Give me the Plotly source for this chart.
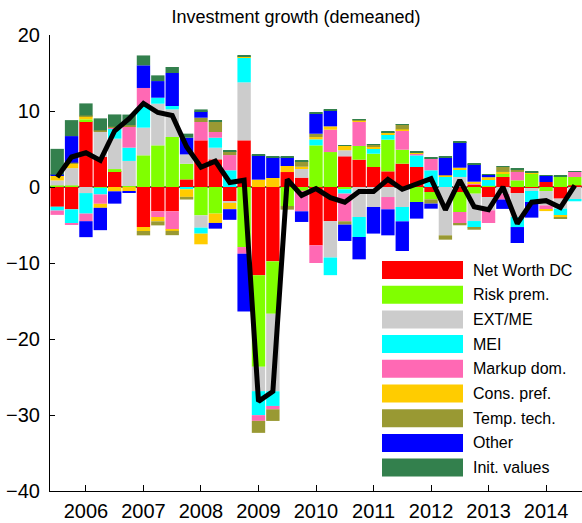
import plotly.graph_objects as go

# Quarters 2005Q3 .. 2014Q3 (x = year + (q-1)/4)
quarters = [2005.5 + 0.25 * i for i in range(37)]

series_names = ["Net Worth DC", "Risk prem.", "EXT/ME", "MEI", "Markup dom.",
                "Cons. pref.", "Temp. tech.", "Other", "Init. values"]
series_colors = ["#FF0000", "#80FF00", "#CCCCCC", "#00FFFF", "#FF69B4",
                 "#FFCC00", "#999933", "#0000FF", "#33804D"]

net_worth = [-2.6, -2.94, 8.64, 3.95, 2.1, 0, -5.26, -3.2, -3.2, 1.0,
             6.14, 3.64, -1.89, 6.14, -11.6, -9.78, 1.97, 1.23, -7.68, -4.5,
             4.04, 3.6, 2.63, 2.06, 3.07, 2.63, -0.66, 0, -0.66, 0.3,
             -1.32, 1.32, -0.79, -0.26, 0.66, -1.53, 0.22]
risk_prem = [0.2, 0.2, 0.26, -0.1, 0.26, 0.13, 4.17, 5.48, 6.58, 2.06,
             -3.73, -3.5, 0, -7.9, -12.06, -6.9, -2.5, -0.5, 5.48, 4.6,
             -0.3, 1.8, 1.75, 4.17, 1.84, -1.97, -0.96, 0, -2.63, -0.88,
             0.15, 0.44, 0.88, 1.75, -0.53, 1.4, 1.1]
ext_me = [0.66, 2.28, -0.8, 3.3, 4.0, 3.3, 3.64, 5.48, 3.64, 1.23,
          -1.62, 1.53, -0.2, 7.63, -3.2, -10.2, 0, 1.18, 0, -4.78,
          0.79, -3.95, -2.63, -1.32, -2.63, 0, 0, -6.36, 1.32, -3.6,
          -1.75, -0.9, -3.16, -0.26, -1.89, -1.32, -1.62]
mei = [-0.5, -1.8, -2.7, -0.88, 1.3, 1.75, 2.72, 0.79, 0.44, -0.3,
       -0.79, 1.32, 2.2, 3.3, -3.16, -1.93, 0, 0, 0.79, -2.32,
       -0.57, -2.63, 0.75, 0.7, -1.89, 1.53, 2.2, 1.32, 0.96, -0.88,
       0.88, 0, -1.32, -1.45, 0, -0.88, -0.26]
markup_dom = [-0.57, -0.2, -1.0, -1.23, 0.17, 2.8, 2.5, -0.75, -2.4, 0,
              2.41, 0.75, 2.0, -0.88, -0.75, -0.44, 0, -2.7, -2.32, 2.94,
              -3.64, 3.16, 0, -1.62, 2.54, 0.3, 1.53, 0, -1.53, 0.2,
              -1.67, -0.75, 1.1, 0, -0.53, 0, 0.66]
cons_pref = [0.66, 0.57, 0.4, -0.53, -0.57, -0.53, -0.53, -0.57, -0.17, -1.0,
             -1.4, -1.23, -0.83, 0.1, 0.97, 1.18, 0.79, 0.26, 0.3, 0.44,
             0.57, 0.22, 0.26, 0.18, 0.13, 0.13, 0, 0.22, 0.26, 0.2,
             0.26, 0.22, 0, 0.22, -0.22, -0.22, 0]
temp_tech = [0, 0.15, 0.1, 0.2, 0.1, 0.15, -0.57, -0.53, -0.57, -0.35,
             0.57, 1.32, 0.53, 0, -1.58, -1.53, -0.48, 0.75, 0.44, 0,
             -0.44, 0.1, 0.2, 0.1, 0.66, 0, -0.57, -0.57, -0.22, -0.26,
             0, 0.66, 0.3, 0, 0, -0.22, 0]
other = [0.1, 3.5, -2.1, -2.94, -1.62, -0.26, 2.98, 2.19, 4.34, 2.2,
         0.83, -0.75, -1.4, -7.6, 3.2, 2.76, 1.18, -1.4, 2.63, 2.1,
         -2.15, -2.94, -3.5, -3.42, -3.9, -2.19, -0.66, 2.32, 3.38, 2.3,
         0.3, -1.23, -2.1, -2.06, 0.79, 0, 0]
init_values = [3.4, 2.1, 1.6, 1.58, 1.62, 1.4, 1.3, 0.75, 0.79, 0.53,
               0.26, 0.13, 0.1, 0.2, 0.1, 0.1, 0.05, 0.05, 0.1, 0.1,
               0.05, 0.05, 0.05, 0.1, 0.05, 0.05, 0.1, 0.1, 0.1, 0.07,
               0.1, 0.1, 0.1, 0.1, 0.05, 0.1, 0.07]

investment = [1.3, 3.95, 4.5, 3.5, 7.4, 9.0, 11.0, 9.8, 9.4, 5.3,
              2.6, 3.4, 0.6, 0.9, -28.2, -26.9, 1.0, -1.1, -0.2, -1.4,
              -2.0, -0.6, -0.6, 1.0, -0.3, 0.4, 1.1, -3.0, 0.9, -2.6,
              -3.0, 0.0, -4.8, -2.0, -1.8, -2.7, 0.2]

year_ticks = [2006, 2007, 2008, 2009, 2010, 2011, 2012, 2013, 2014]
y_ticks = [20, 10, 0, -10, -20, -30, -40]

series_values = [net_worth, risk_prem, ext_me, mei, markup_dom,
                 cons_pref, temp_tech, other, init_values]

FONT = "Liberation Sans, Arial, Helvetica, sans-serif"
W, H = 582, 523
ML, MR, MT, MB = 50, 0, 35, 32
PW, PH = W - ML - MR, H - MT - MB

fig = go.Figure()
for name, color, vals in zip(series_names, series_colors, series_values):
    fig.add_trace(go.Bar(x=quarters, y=vals, name=name,
                         marker=dict(color=color, line=dict(width=0)),
                         showlegend=False))

fig.add_trace(go.Scatter(x=quarters, y=investment, mode="lines",
                         line=dict(color="black", width=5),
                         showlegend=False))

# manual legend (wide swatches like the original)
shapes = []
annotations = []
for k, (name, color) in enumerate(zip(series_names, series_colors)):
    cy = 270 + k * 24.7  # pixel center from top
    y0 = 1 - (cy + 9 - MT) / PH
    y1 = 1 - (cy - 9 - MT) / PH
    shapes.append(dict(type="rect", xref="paper", yref="paper",
                       x0=(382 - ML) / PW, x1=(463 - ML) / PW, y0=y0, y1=y1,
                       fillcolor=color, line=dict(width=0), layer="above"))
    annotations.append(dict(xref="paper", yref="paper",
                            x=(471 - ML) / PW, y=1 - (cy - MT) / PH,
                            text=name, showarrow=False, xanchor="left",
                            yanchor="middle",
                            font=dict(family=FONT, size=16, color="black")))

fig.update_layout(
    width=W, height=H,
    margin=dict(l=ML, r=MR, t=MT, b=MB, pad=0, autoexpand=False),
    barmode="relative", bargap=0.07,
    plot_bgcolor="white", paper_bgcolor="white",
    font=dict(family=FONT, color="black"),
    title=dict(text="Investment growth (demeaned)", x=296 / W, xanchor="center",
               y=1 - 17 / H, yanchor="middle", automargin=False,
               font=dict(family=FONT, size=18, color="black")),
    shapes=shapes, annotations=annotations,
    xaxis=dict(range=[2005.375, 2014.625], tickvals=year_ticks,
               ticktext=[str(t) for t in year_ticks], automargin=False,
               showgrid=False, zeroline=False, showline=True,
               linecolor="black", linewidth=1, ticks="inside", ticklen=6,
               tickcolor="black", tickfont=dict(family=FONT, size=20),
               ticklabelstandoff=2),
    yaxis=dict(range=[-40, 20], tickvals=y_ticks, showgrid=False,
               automargin=False,
               zeroline=True, zerolinecolor="#555555", zerolinewidth=1.5,
               showline=True, linecolor="black", linewidth=1,
               ticks="inside", ticklen=5, tickcolor="black",
               tickfont=dict(family=FONT, size=20), ticklabelstandoff=5),
)

fig.write_html("out.html", config={"displayModeBar": False},
               post_script="document.body.style.margin='0';"
                           "document.body.style.overflow='hidden';")
